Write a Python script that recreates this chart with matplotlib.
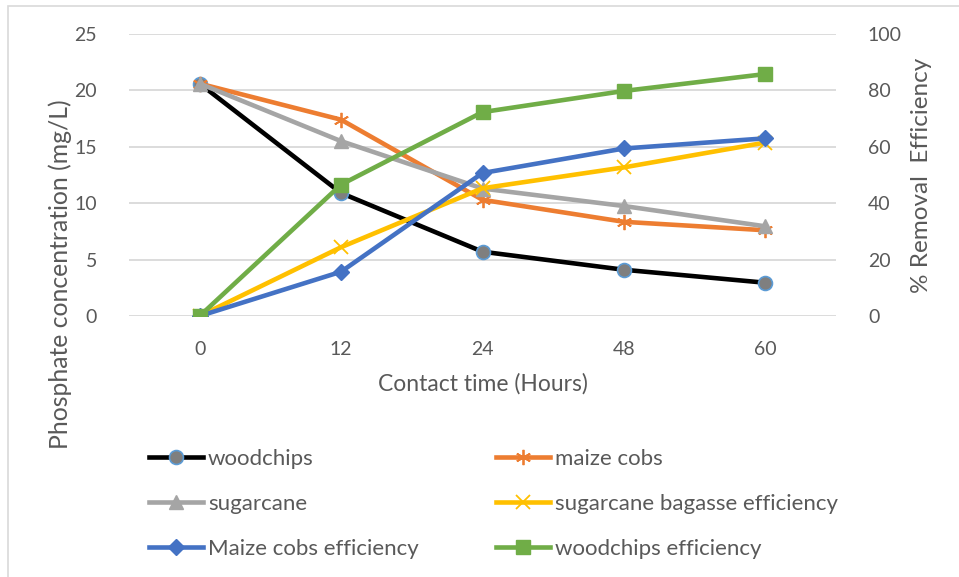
import matplotlib
matplotlib.use("Agg")
import matplotlib.pyplot as plt
from matplotlib.patches import Rectangle

plt.rcParams['font.family'] = ['Lato', 'DejaVu Sans']

# Contact time categories (hours)
categories = ["0", "12", "24", "48", "60"]

# Phosphate concentration (mg/L) - left axis
woodchips = [20.6, 10.9, 5.7, 4.1, 2.95]
maize_cobs = [20.6, 17.4, 10.3, 8.35, 7.6]
sugarcane = [20.6, 15.5, 11.3, 9.75, 7.95]

# Removal efficiency (%) - right axis
bagasse_eff = [0, 24.4, 45.3, 52.7, 61.5]
maize_eff = [0, 15.7, 50.7, 59.4, 63.0]
woodchips_eff = [0, 46.6, 72.3, 79.8, 85.8]

text_col = "#595959"
grid_col = "#d9d9d9"

W, H = 959, 577
fig = plt.figure(figsize=(W / 100, H / 100), dpi=100)
ax = fig.add_axes([129 / W, 1 - 316 / H, (836 - 129) / W, (316 - 34) / H])
ax2 = ax.twinx()

x = list(range(len(categories)))
lw = 3.3

l1, = ax.plot(x, woodchips, color="black", lw=lw, marker="o", ms=10,
              mfc="#7f7f7f", mec="#5b9bd5", mew=1.2, label="woodchips", zorder=3)
l2, = ax.plot(x, maize_cobs, color="#ED7D31", lw=lw, marker=(6, 2, 0), ms=11,
              mec="#ED7D31", mew=1.3, label="maize cobs", zorder=3)
l3, = ax.plot(x, sugarcane, color="#A5A5A5", lw=lw, marker="^", ms=10,
              mfc="#A5A5A5", mec="#A5A5A5", label="sugarcane", zorder=3)
l4, = ax2.plot(x, bagasse_eff, color="#FFC000", lw=lw, marker="x", ms=10,
               mec="#FFC000", mew=1.3, label="sugarcane bagasse efficiency", zorder=3)
l5, = ax2.plot(x, maize_eff, color="#4472C4", lw=lw, marker="D", ms=8.5,
               mfc="#4472C4", mec="#4472C4", label="Maize cobs efficiency", zorder=3)
l6, = ax2.plot(x, woodchips_eff, color="#70AD47", lw=lw, marker="s", ms=10,
               mfc="#70AD47", mec="#70AD47", label="woodchips efficiency", zorder=3)

ax.set_xlim(-0.5, len(categories) - 0.5)
ax.set_ylim(0, 25)
ax2.set_ylim(0, 100)
ax.set_yticks(range(0, 26, 5))
ax2.set_yticks(range(0, 101, 20))
ax.set_xticks(x)
ax.set_xticklabels(categories)

for a in (ax, ax2):
    for s in a.spines.values():
        s.set_visible(False)
    a.tick_params(length=0, labelsize=14, colors=text_col)
ax.tick_params(axis="y", pad=23)
ax2.tick_params(axis="y", pad=23)
ax.tick_params(axis="x", pad=18)

ax.yaxis.grid(True, color=grid_col, lw=1.3)
ax.set_axisbelow(True)

ax.set_xlabel("Contact time (Hours)", fontsize=16.5, color=text_col, labelpad=11)
ax.set_ylabel("Phosphate concentration (mg/L)", fontsize=17.8, color=text_col)
ax.yaxis.set_label_coords((72 - 129) / 707, (316 - 274) / 282)
ax2.set_ylabel("% Removal  Efficiency", fontsize=17.5, color=text_col)
ax2.yaxis.set_label_coords((911 - 129) / 707, 0.5)

# legend: two columns placed side by side
leg_kw = dict(frameon=False, fontsize=16, handlelength=2.45, handletextpad=0.2,
              labelspacing=1.12, labelcolor=text_col, borderpad=0, borderaxespad=0,
              loc="upper left")
leg1 = fig.legend(handles=[l1, l3, l5], bbox_to_anchor=(149 / W, 1 - 449 / H), **leg_kw)
leg2 = fig.legend(handles=[l2, l4, l6], bbox_to_anchor=(496 / W, 1 - 449 / H), **leg_kw)

# thin frame around the chart area
fig.patches.append(Rectangle((8 / W, -0.1), 2, 1.1 - 6 / H, transform=fig.transFigure,
                             fill=False, ec=grid_col, lw=1.2))

fig.savefig("out.png", dpi=100)
